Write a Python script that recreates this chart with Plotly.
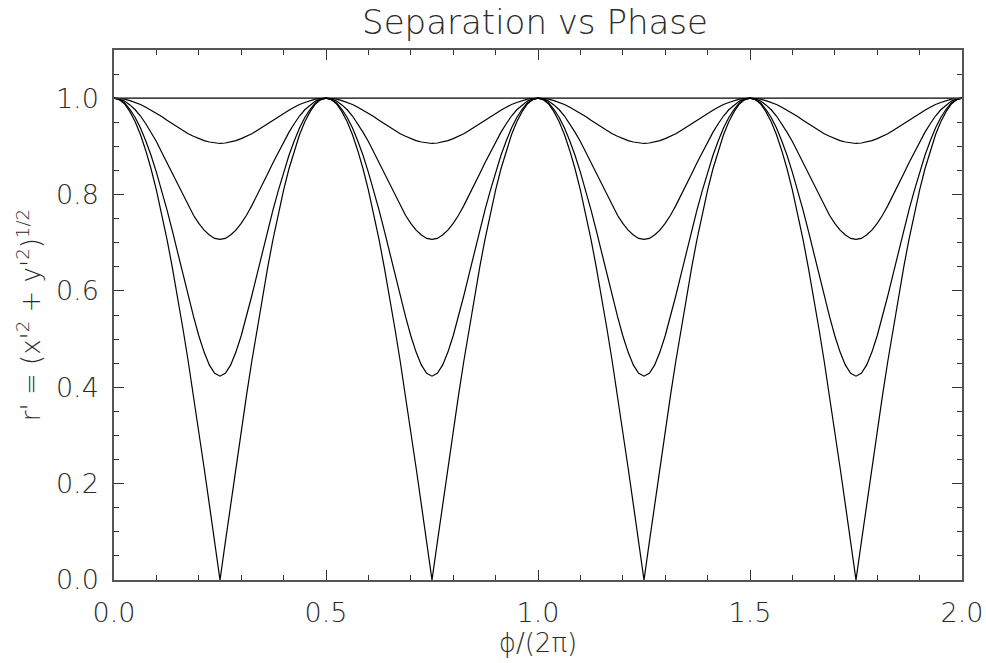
import plotly.graph_objects as go

# phase samples over one period (phi/2pi from 0 to 0.5, step 0.0125)
PERIOD_X = [i * 0.0125 for i in range(41)]
PERIOD_OFFSETS = [0.0, 0.5, 1.0, 1.5]

# r' values over one period, one list per curve
R_FLAT = [1.000] * 41
R_906 = [1.000, 0.999, 0.998, 0.995, 0.991, 0.987, 0.981, 0.975, 0.969, 0.962, 0.954,
         0.947, 0.940, 0.933, 0.926, 0.921, 0.916, 0.912, 0.909, 0.907, 0.906,
         0.907, 0.909, 0.912, 0.916, 0.921, 0.926, 0.933, 0.940, 0.947, 0.954,
         0.962, 0.969, 0.975, 0.981, 0.987, 0.991, 0.995, 0.998, 0.999, 1.000]
R_707 = [1.000, 0.998, 0.994, 0.986, 0.976, 0.963, 0.947, 0.929, 0.910, 0.888, 0.866,
         0.843, 0.820, 0.798, 0.777, 0.757, 0.740, 0.726, 0.716, 0.709, 0.707,
         0.709, 0.716, 0.726, 0.740, 0.757, 0.777, 0.798, 0.820, 0.843, 0.866,
         0.888, 0.910, 0.929, 0.947, 0.963, 0.976, 0.986, 0.994, 0.998, 1.000]
R_423 = [1.000, 0.997, 0.990, 0.977, 0.960, 0.938, 0.911, 0.881, 0.846, 0.808, 0.768,
         0.725, 0.680, 0.635, 0.590, 0.547, 0.507, 0.473, 0.446, 0.429, 0.423,
         0.429, 0.446, 0.473, 0.507, 0.547, 0.590, 0.635, 0.680, 0.725, 0.768,
         0.808, 0.846, 0.881, 0.911, 0.938, 0.960, 0.977, 0.990, 0.997, 1.000]
R_000 = [1.000, 0.997, 0.988, 0.972, 0.951, 0.924, 0.891, 0.853, 0.809, 0.760, 0.707,
         0.649, 0.588, 0.522, 0.454, 0.383, 0.309, 0.233, 0.156, 0.078, 0.000,
         0.078, 0.156, 0.233, 0.309, 0.383, 0.454, 0.522, 0.588, 0.649, 0.707,
         0.760, 0.809, 0.853, 0.891, 0.924, 0.951, 0.972, 0.988, 0.997, 1.000]

CURVES = [R_FLAT, R_906, R_707, R_423, R_000]

TITLE = "Separation vs Phase"
X_LABEL = "ϕ/(2π)"
Y_LABEL = "r' = (x'<sup>2</sup> + y'<sup>2</sup>)<sup>1/2</sup>"

FONT = "DejaVu Sans"
TXT = "#2a2a2a"

fig = go.Figure()
for curve in CURVES:
    xs, ys = [], []
    for off in PERIOD_OFFSETS:
        xs += [off + p for p in PERIOD_X]
        ys += curve
    fig.add_trace(go.Scatter(x=xs, y=ys, mode="lines",
                             line=dict(color="black", width=1.2),
                             showlegend=False, hoverinfo="skip"))

axis_common = dict(showgrid=False, zeroline=False, showline=True,
                   linecolor="#555555", linewidth=1.5, mirror="ticks",
                   ticks="inside", tickcolor="#333333", tickwidth=1,
                   tickfont=dict(family=FONT, size=27, color=TXT, weight=200),
                   tickformat=".1f", automargin=False, ticklabeloverflow="allow")

fig.update_xaxes(range=[0, 2], dtick=0.5, tick0=0, ticklen=10, ticklabelstandoff=8,
                 minor=dict(dtick=0.1, tick0=0, ticks="inside", ticklen=5,
                            tickcolor="#333333", tickwidth=1, showgrid=False),
                 title=dict(text=X_LABEL, font=dict(family=FONT, size=26, color=TXT, weight=200),
                            standoff=0),
                 **axis_common)
fig.update_yaxes(range=[0, 1.1], dtick=0.2, tick0=0, ticklen=10, ticklabelstandoff=8,
                 minor=dict(dtick=0.05, tick0=0, ticks="inside", ticklen=5,
                            tickcolor="#333333", tickwidth=1, showgrid=False),
                 title=dict(text=Y_LABEL, font=dict(family=FONT, size=26, color=TXT, weight=200),
                            standoff=8),
                 **axis_common)

fig.update_layout(
    width=986, height=663,
    margin=dict(l=114, r=24, t=50, b=83),
    plot_bgcolor="white", paper_bgcolor="white",
    title=dict(text=TITLE, x=0.5426, xanchor="center", xref="container",
               y=0.967, yanchor="middle", yref="container",
               font=dict(family=FONT, size=34, color=TXT, weight=200)),
)

fig.write_html("out.html", config={"displayModeBar": False},
               post_script="document.body.style.margin='0';document.body.style.overflow='hidden';")
